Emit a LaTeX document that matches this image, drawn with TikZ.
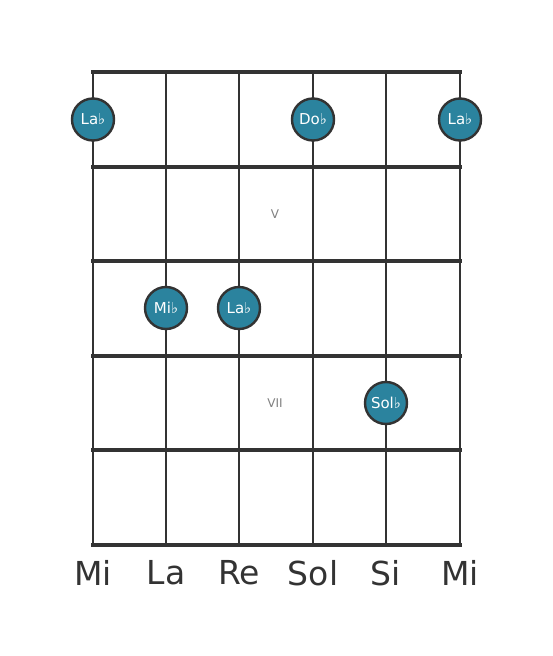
\documentclass[tikz,border=0pt]{standalone}
\usepackage{fontspec}
\setmainfont{DejaVu Sans}
\usepackage{xcolor}
\definecolor{ColLine}{RGB}{51,51,51}
\definecolor{ColDot}{RGB}{43,131,158}
\definecolor{ColFret}{RGB}{128,128,128}
\tikzstyle{Fret}=[ColLine,line width=4pt]
\tikzstyle{String}=[ColLine,line width=2.6pt]
\tikzstyle{NoteDot}=[circle,draw=ColLine,fill=ColDot,line width=2.4pt,minimum size=42pt,inner sep=0pt,
text=white,font=\fontsize{15}{18}\selectfont]
\tikzstyle{FretNum}=[text=ColFret,font=\fontsize{12}{14}\selectfont]
\tikzstyle{StringName}=[text=ColLine,font=\fontsize{33}{38}\selectfont]

\begin{document}
\begin{tikzpicture}[x=1pt,y=-1pt]
        \useasboundingbox(0,0)rectangle(553,656);
        % strings
        \foreach \x in {93,166,239,313,386,460}
            \draw[String](\x,72)--(\x,545);
        % frets
        \foreach \y in {72,167,261,356,450,545}
            \draw[Fret](91,\y)--(462,\y);
        \node[FretNum](v)at(275,214){V};
        \node[FretNum](vii)at(275,403){VII};
        % notes
        \node[NoteDot](la1)at(93,119.5){La♭};
        \node[NoteDot](do)at(313,119.5){Do♭};
        \node[NoteDot](la2)at(460,119.5){La♭};
        \node[NoteDot](mi)at(166,308){Mi♭};
        \node[NoteDot](la3)at(239,308){La♭};
        \node[NoteDot](sol)at(386,403){Sol♭};
        % string names
        \node[StringName](s1)at(93,573){Mi};
        \node[StringName](s2)at(166,573){La};
        \node[StringName](s3)at(239,573){Re};
        \node[StringName](s4)at(313,573){Sol};
        \node[StringName](s5)at(386,573){Si};
        \node[StringName](s6)at(460,573){Mi};
    \end{tikzpicture}
\end{document}
